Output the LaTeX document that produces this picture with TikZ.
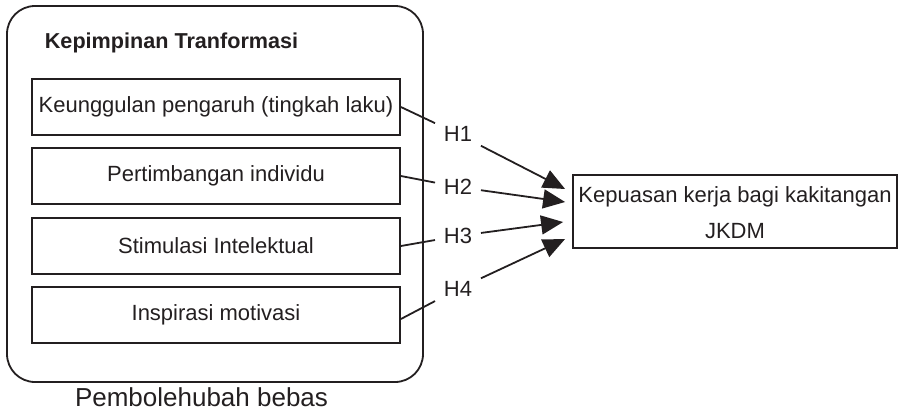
\documentclass[tikz,border=0pt]{standalone}
\usepackage{fontspec}
\setmainfont{Liberation Sans}
\usetikzlibrary{arrows.meta,calc}
\definecolor{ink}{HTML}{231F20}
\begin{document}
\begin{tikzpicture}[x=1pt,y=-1pt,line width=1.8pt,draw=ink,
  every node/.style={font=\fontsize{22}{26}\selectfont,text=ink},
  dimbox/.style={draw=ink,rectangle,minimum width=368pt,minimum height=56pt,inner sep=0pt},
  hlab/.style={inner sep=8pt},
  link/.style={draw=ink,line width=1.8pt},
  arr/.style={link,-{Triangle[length=22pt,width=19pt]}}]
\useasboundingbox (0,0) rectangle (902,413);
\node[draw=ink,rounded corners=28pt,minimum width=416pt,minimum height=376pt,inner sep=0pt] (outer) at (215,194) {};
\node[anchor=base west,inner sep=0pt,font=\bfseries\fontsize{21.6}{26}\selectfont] (title) at (44,48) {Kepimpinan Tranformasi};
\node[dimbox] (b1) at (216,107) {Keunggulan pengaruh (tingkah laku)};
\node[dimbox] (b2) at (216,176) {Pertimbangan individu};
\node[dimbox] (b3) at (216,246) {Stimulasi Intelektual};
\node[dimbox] (b4) at (216,315) {Inspirasi motivasi};
\node[anchor=base,inner sep=0pt,font=\fontsize{26}{30}\selectfont] (pb) at (201.5,406) {Pembolehubah bebas};
\node[draw=ink,rectangle,minimum width=324pt,minimum height=73pt,inner sep=0pt] (k) at (735,211.5) {};
\node[anchor=base,inner sep=0pt] (k1) at (735,202) {Kepuasan kerja bagi kakitangan};
\node[anchor=base,inner sep=0pt] (k2) at (735,238) {JKDM};
\node[hlab] (h1) at (458,134) {H1};
\node[hlab] (h2) at (458,187) {H2};
\node[hlab] (h3) at (458,236) {H3};
\node[hlab] (h4) at (458,289) {H4};
\coordinate (t1) at ($(k.west)+(-7,-22.5)$);
\coordinate (t2) at ($(k.west)+(-7,-9.5)$);
\coordinate (t3) at ($(k.west)+(-9,10.5)$);
\coordinate (t4) at ($(k.west)+(-7,27.5)$);
\draw[link] (b1.east) -- (h1);
\draw[link] (b2.east) -- (h2);
\draw[link] (b3.east) -- (h3);
\draw[link] ($(b4.east)+(0,4)$) -- (h4);
\draw[arr] (h1) -- (t1);
\draw[arr] (h2) -- (t2);
\draw[arr] (h3) -- (t3);
\draw[arr] (h4) -- (t4);
\end{tikzpicture}
\end{document}
